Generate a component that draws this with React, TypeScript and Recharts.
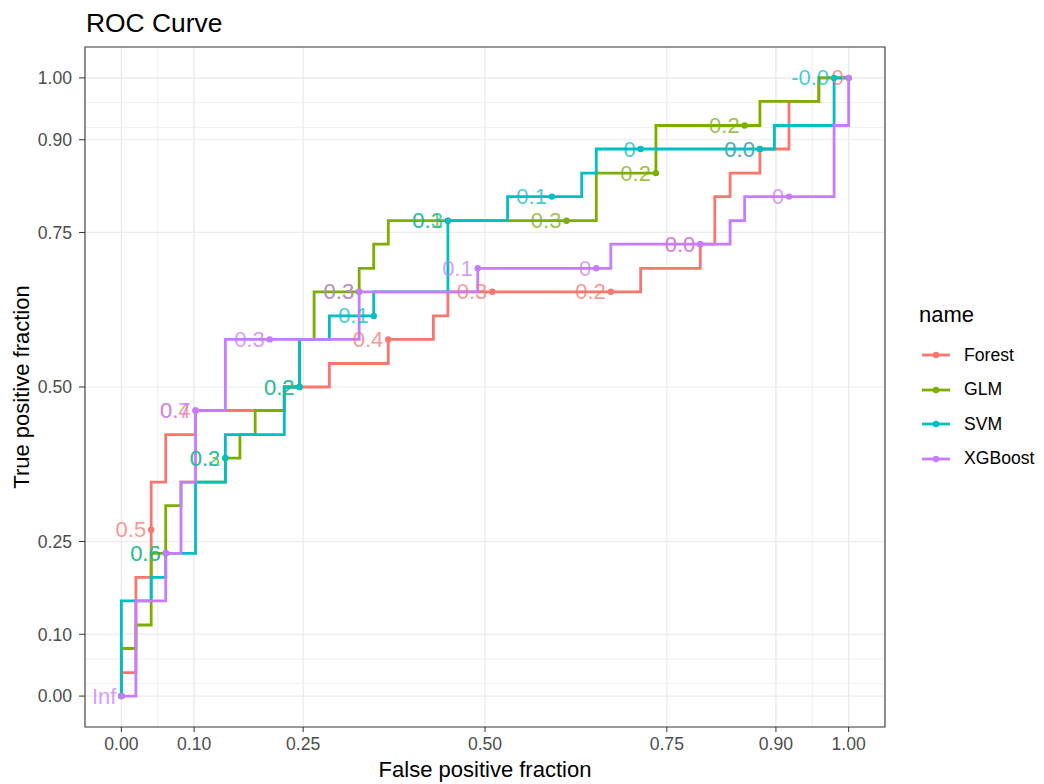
import React from "react";
import {
  ScatterChart,
  Scatter,
  XAxis,
  YAxis,
  CartesianGrid,
  ReferenceArea,
} from "recharts";

// corner points of each ROC step curve (false positive fraction, true positive fraction)
const forestFpr = [0, 0, 0.02, 0.02, 0.041, 0.041, 0.061, 0.061, 0.102, 0.102, 0.224, 0.224, 0.286, 0.286, 0.367, 0.367, 0.429, 0.429, 0.449, 0.449, 0.714, 0.714, 0.796, 0.796, 0.816, 0.816, 0.837, 0.837, 0.878, 0.878, 0.918, 0.918, 0.959, 0.959, 1];
const forestTpr = [0, 0.038, 0.038, 0.192, 0.192, 0.346, 0.346, 0.423, 0.423, 0.462, 0.462, 0.5, 0.5, 0.538, 0.538, 0.577, 0.577, 0.615, 0.615, 0.654, 0.654, 0.692, 0.692, 0.731, 0.731, 0.808, 0.808, 0.846, 0.846, 0.885, 0.885, 0.962, 0.962, 1, 1];

const glmFpr = [0, 0, 0.02, 0.02, 0.041, 0.041, 0.061, 0.061, 0.082, 0.082, 0.143, 0.143, 0.163, 0.163, 0.184, 0.184, 0.224, 0.224, 0.245, 0.245, 0.265, 0.265, 0.327, 0.327, 0.347, 0.347, 0.367, 0.367, 0.653, 0.653, 0.735, 0.735, 0.878, 0.878, 0.959, 0.959, 1];
const glmTpr = [0, 0.077, 0.077, 0.115, 0.115, 0.231, 0.231, 0.308, 0.308, 0.346, 0.346, 0.385, 0.385, 0.423, 0.423, 0.462, 0.462, 0.5, 0.5, 0.577, 0.577, 0.654, 0.654, 0.692, 0.692, 0.731, 0.731, 0.769, 0.769, 0.846, 0.846, 0.923, 0.923, 0.962, 0.962, 1, 1];

const svmFpr = [0, 0, 0.041, 0.041, 0.061, 0.061, 0.102, 0.102, 0.143, 0.143, 0.224, 0.224, 0.245, 0.245, 0.286, 0.286, 0.347, 0.347, 0.449, 0.449, 0.531, 0.531, 0.633, 0.633, 0.653, 0.653, 0.898, 0.898, 0.98, 0.98, 1];
const svmTpr = [0, 0.154, 0.154, 0.192, 0.192, 0.231, 0.231, 0.346, 0.346, 0.423, 0.423, 0.5, 0.5, 0.577, 0.577, 0.615, 0.615, 0.654, 0.654, 0.769, 0.769, 0.808, 0.808, 0.846, 0.846, 0.885, 0.885, 0.923, 0.923, 1, 1];

const xgbFpr = [0, 0.02, 0.02, 0.061, 0.061, 0.082, 0.082, 0.102, 0.102, 0.143, 0.143, 0.327, 0.327, 0.49, 0.49, 0.673, 0.673, 0.837, 0.837, 0.857, 0.857, 0.98, 0.98, 1, 1];
const xgbTpr = [0, 0, 0.154, 0.154, 0.231, 0.231, 0.346, 0.346, 0.462, 0.462, 0.577, 0.577, 0.654, 0.654, 0.692, 0.692, 0.731, 0.731, 0.769, 0.769, 0.808, 0.808, 0.923, 0.923, 1];

// cutoff points and their labels
const forestCutFpr = [0, 0.041, 0.102, 0.367, 0.51, 0.673, 0.796, 0.878, 1];
const forestCutTpr = [0, 0.269, 0.462, 0.577, 0.654, 0.654, 0.731, 0.885, 1];
const forestCutLabel = ["", "0.5", "0.4", "0.4", "0.3", "0.2", "0.0", "0.0", "0"];

const glmCutFpr = [0, 0.061, 0.143, 0.245, 0.327, 0.449, 0.612, 0.735, 0.857];
const glmCutTpr = [0, 0.231, 0.385, 0.5, 0.654, 0.769, 0.769, 0.846, 0.923];
const glmCutLabel = ["", "0.5", "0.3", "0.2", "0.3", "0.1", "0.3", "0.2", "0.2"];

const svmCutFpr = [0, 0.061, 0.143, 0.245, 0.347, 0.449, 0.592, 0.714, 0.878, 0.98];
const svmCutTpr = [0, 0.231, 0.385, 0.5, 0.615, 0.769, 0.808, 0.885, 0.885, 1];
const svmCutLabel = ["", "0.6", "0.2", "0.2", "0.1", "0.3", "0.1", "0", "0.0", "-0.0"];

const xgbCutFpr = [0, 0.061, 0.102, 0.204, 0.327, 0.49, 0.653, 0.796, 0.918, 1];
const xgbCutTpr = [0, 0.231, 0.462, 0.577, 0.654, 0.692, 0.692, 0.731, 0.808, 1];
const xgbCutLabel = ["Inf", "", "0.7", "0.3", "0.3", "0.1", "0", "0.0", "0", ""];

const majorBreaks = [0, 0.1, 0.25, 0.5, 0.75, 0.9, 1];
const minorBreaks = [0, 0.01, 0.02, 0.03, 0.04, 0.05, 0.06, 0.07, 0.08, 0.09, 0.1, 0.9, 0.91, 0.92, 0.93, 0.94, 0.95, 0.96, 0.97, 0.98, 0.99, 1];

const names = ["Forest", "GLM", "SVM", "XGBoost"];
const colors = ["#F8766D", "#7CAE00", "#00BFC4", "#C77CFF"];

const FONT = "'Liberation Sans', Arial, sans-serif";

const toPoints = (xs: number[], ys: number[], labels?: string[]) =>
  xs.map((x, i) => ({ x, y: ys[i], label: labels ? labels[i] : "" }));

const series = [
  { path: toPoints(forestFpr, forestTpr), cuts: toPoints(forestCutFpr, forestCutTpr, forestCutLabel) },
  { path: toPoints(glmFpr, glmTpr), cuts: toPoints(glmCutFpr, glmCutTpr, glmCutLabel) },
  { path: toPoints(svmFpr, svmTpr), cuts: toPoints(svmCutFpr, svmCutTpr, svmCutLabel) },
  { path: toPoints(xgbFpr, xgbTpr), cuts: toPoints(xgbCutFpr, xgbCutTpr, xgbCutLabel) },
];

const fmt = (v: number) => v.toFixed(2);

function cutShape(color: string) {
  return (props: any) => {
    const { cx, cy, payload } = props;
    return (
      <g>
        <circle cx={cx} cy={cy} r={3.2} fill={color} />
        {payload.label ? (
          <text
            x={cx - 5}
            y={cy}
            textAnchor="end"
            dominantBaseline="central"
            fontSize={22}
            fontFamily={FONT}
            fill={color}
            fillOpacity={0.75}
          >
            {payload.label}
          </text>
        ) : null}
      </g>
    );
  };
}

export default function App() {
  return (
    <div style={{ position: "absolute", left: 0, top: 0, width: 1044, height: 784, background: "#fff", fontFamily: FONT }}>
      <ScatterChart
        width={1044}
        height={784}
        margin={{ top: 47, right: 159, bottom: 0, left: 0 }}
      >
        <CartesianGrid
          verticalValues={minorBreaks}
          horizontalValues={minorBreaks}
          stroke="#EBEBEB"
          strokeWidth={0.8}
        />
        <CartesianGrid
          verticalValues={majorBreaks}
          horizontalValues={majorBreaks}
          stroke="#EBEBEB"
          strokeWidth={1.2}
        />
        <XAxis
          type="number"
          dataKey="x"
          domain={[-0.05, 1.05]}
          allowDataOverflow
          ticks={majorBreaks}
          tickFormatter={fmt}
          height={57}
          axisLine={false}
          tickSize={5}
          tickMargin={6}
          tickLine={{ stroke: "#333333" }}
          tick={{ fill: "#4D4D4D", fontSize: 17.6, fontFamily: FONT }}
        />
        <YAxis
          type="number"
          dataKey="y"
          domain={[-0.05, 1.05]}
          allowDataOverflow
          ticks={majorBreaks}
          tickFormatter={fmt}
          width={85}
          axisLine={false}
          tickSize={6}
          tickMargin={7}
          tickLine={{ stroke: "#333333" }}
          tick={{ fill: "#4D4D4D", fontSize: 17.6, fontFamily: FONT }}
        />
        {series.map((s, i) => (
          <Scatter
            key={"path-" + names[i]}
            name={names[i]}
            data={s.path}
            line={{ stroke: colors[i], strokeWidth: 2.8 }}
            lineType="joint"
            shape={() => <g />}
            isAnimationActive={false}
          />
        ))}
        {series.map((s, i) => (
          <Scatter
            key={"cut-" + names[i]}
            name={names[i] + " cutoffs"}
            data={s.cuts}
            shape={cutShape(colors[i])}
            isAnimationActive={false}
          />
        ))}
        <ReferenceArea
          x1={-0.05}
          x2={1.05}
          y1={-0.05}
          y2={1.05}
          fill="none"
          stroke="#333333"
          strokeWidth={1.1}
        />
      </ScatterChart>

      <div style={{ position: "absolute", left: 86, top: 8, fontSize: 26.4, color: "#000" }}>ROC Curve</div>
      <div style={{ position: "absolute", left: 85, width: 800, top: 757, textAlign: "center", fontSize: 22, color: "#000" }}>
        False positive fraction
      </div>
      <div
        style={{
          position: "absolute",
          left: 22,
          top: 387,
          fontSize: 22,
          color: "#000",
          whiteSpace: "nowrap",
          transform: "translate(-50%, -50%) rotate(-90deg)",
        }}
      >
        True positive fraction
      </div>

      <div style={{ position: "absolute", left: 919, top: 302, fontSize: 22, color: "#000" }}>name</div>
      {names.map((n, i) => (
        <div key={n} style={{ position: "absolute", left: 920, top: 341 + i * 34.5, height: 28, display: "flex", alignItems: "center" }}>
          <svg width={32} height={28}>
            <line x1={2} x2={30} y1={14} y2={14} stroke={colors[i]} strokeWidth={2.8} />
            <circle cx={16} cy={14} r={3.2} fill={colors[i]} />
          </svg>
          <span style={{ marginLeft: 12, fontSize: 17.6, color: "#000" }}>{n}</span>
        </div>
      ))}
    </div>
  );
}
